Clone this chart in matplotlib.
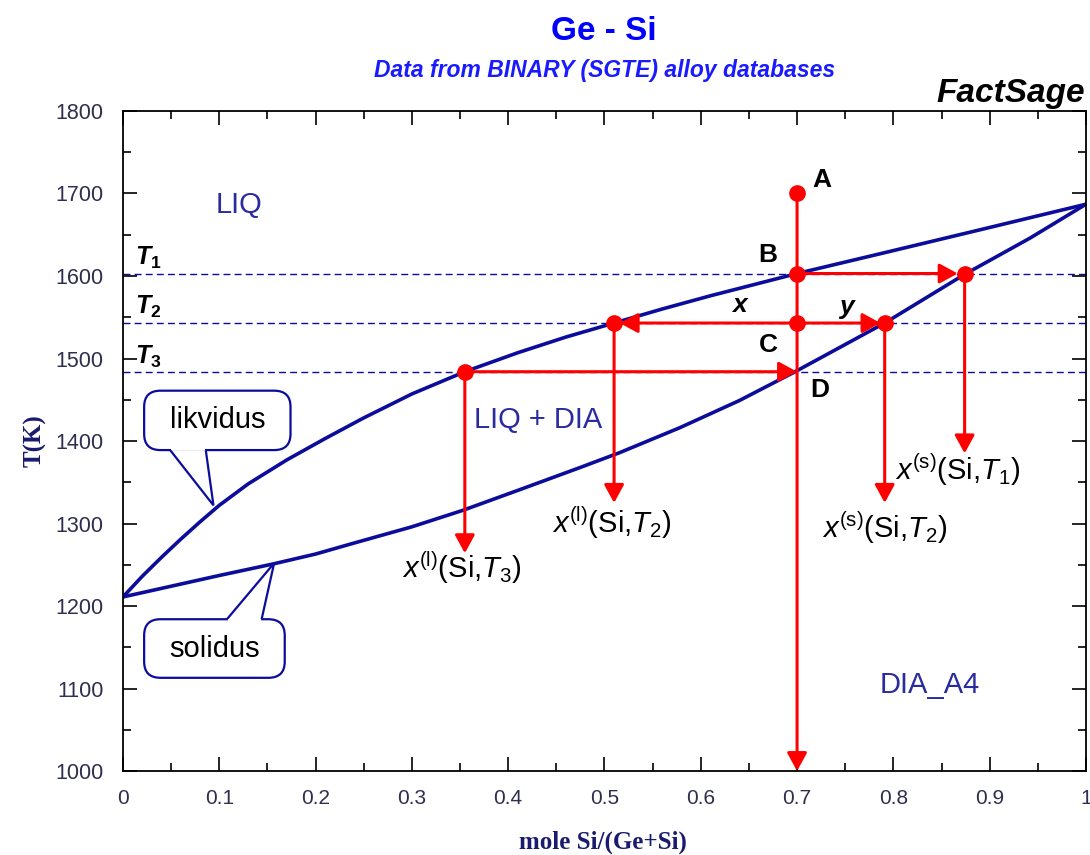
import matplotlib
matplotlib.use("Agg")
import matplotlib.pyplot as plt
from matplotlib.patches import FancyBboxPatch, Polygon
from matplotlib import font_manager

installed = {f.name for f in font_manager.fontManager.ttflist}
tick_font = "Liberation Sans Narrow" if "Liberation Sans Narrow" in installed else "Liberation Sans"

plt.rcParams["font.family"] = "Liberation Sans"
plt.rcParams["mathtext.fontset"] = "custom"
plt.rcParams["mathtext.rm"] = "Liberation Sans"
plt.rcParams["mathtext.it"] = "Liberation Sans:italic"
plt.rcParams["mathtext.bf"] = "Liberation Sans:bold"
plt.rcParams["mathtext.bfit"] = "Liberation Sans:bold:italic"

navy = "#0c0c9c"
text_navy = "#2b2ba0"
label_navy = "#1a1a6e"
red = "#ff0000"

# Liquidus and solidus (mole fraction Si, T in K)
liq_x = [0, 0.02, 0.04, 0.06, 0.08, 0.10, 0.13, 0.17, 0.21, 0.25, 0.30, 0.355,
         0.41, 0.46, 0.51, 0.56, 0.61, 0.70, 0.79, 0.89, 1.0]
liq_T = [1211, 1236, 1259, 1281, 1302, 1322, 1348, 1377, 1403, 1428, 1457, 1484,
         1507, 1526, 1543, 1560, 1576, 1603, 1628, 1656, 1687]
sol_x = [0, 0.05, 0.10, 0.156, 0.20, 0.239, 0.30, 0.353, 0.412, 0.475, 0.516,
         0.578, 0.64, 0.698, 0.791, 0.874, 0.942, 1.0]
sol_T = [1211, 1224, 1237, 1251, 1263, 1276, 1296, 1316, 1341, 1368, 1386,
         1416, 1449, 1484, 1543, 1602, 1646, 1687]

# Isotherms T1, T2, T3
T_iso = [1603, 1543, 1484]
# Overall composition and start temperature (point A)
x0 = 0.70
T_A = 1700
# Phase compositions on the isotherms
xl_T2, xl_T3 = 0.51, 0.355
xs_T1, xs_T2 = 0.874, 0.791
# Where the drop arrows end
drop_T3, drop_T2l, drop_T2s, drop_T1s = 1264, 1325, 1325, 1385

x_ticks = [0, 0.1, 0.2, 0.3, 0.4, 0.5, 0.6, 0.7, 0.8, 0.9, 1.0]
x_tick_labels = ["0", "0.1", "0.2", "0.3", "0.4", "0.5", "0.6", "0.7", "0.8", "0.9", "1"]
y_ticks = [1000, 1100, 1200, 1300, 1400, 1500, 1600, 1700, 1800]

fig = plt.figure(figsize=(10.9, 8.55), dpi=100)
ax = fig.add_axes([0.1128, 0.0982, 0.8835, 0.772])
ax.set_xlim(0, 1)
ax.set_ylim(1000, 1800)

ax.set_xticks(x_ticks, x_tick_labels)
ax.set_xticks([v + 0.05 for v in x_ticks[:-1]], minor=True)
ax.set_yticks(y_ticks, [str(v) for v in y_ticks])
ax.set_yticks([v + 50 for v in y_ticks[:-1]], minor=True)
ax.tick_params(which="both", direction="in", top=True, right=True, colors="black",
               labelcolor="#2e2e4e")
ax.tick_params(which="major", length=10, width=1.2)
ax.tick_params(which="minor", length=6, width=1.2)
ax.tick_params(axis="x", pad=13, labelsize=15)
ax.tick_params(axis="y", pad=14, labelsize=15.5)
for lab in ax.get_xticklabels() + ax.get_yticklabels():
    lab.set_fontfamily(tick_font)
for sp in ax.spines.values():
    sp.set_linewidth(1.3)

# isotherms
for T in T_iso:
    ax.axhline(T, color=navy, lw=1.0, ls=(0, (5, 3)), zorder=1)

# phase boundaries
ax.plot(liq_x, liq_T, color=navy, lw=2.6, zorder=2, solid_joinstyle="round")
ax.plot(sol_x, sol_T, color=navy, lw=2.6, zorder=2, solid_joinstyle="round")


def arrow(x1, y1, x2, y2, shrink=0):
    ax.annotate("", xy=(x2, y2), xytext=(x1, y1), annotation_clip=False,
                arrowprops=dict(arrowstyle="-|>,head_length=11,head_width=6",
                                mutation_scale=1, color=red, lw=2.2,
                                shrinkA=0, shrinkB=shrink), zorder=4)


T1, T2, T3 = T_iso
arrow(x0, T_A, x0, 1000)
arrow(x0, T1, xs_T1, T1, shrink=5)
arrow(x0, T2, xs_T2, T2, shrink=3)
arrow(x0, T2, xl_T2, T2, shrink=4)
arrow(xl_T3, T3, x0, T3)
arrow(xl_T3, T3, xl_T3, drop_T3)
arrow(xl_T2, T2, xl_T2, drop_T2l)
arrow(xs_T2, T2, xs_T2, drop_T2s)
arrow(xs_T1, T1, xs_T1, drop_T1s)

dots_x = [x0, x0, x0, xl_T2, xl_T3, xs_T2, xs_T1]
dots_T = [T_A, T1, T2, T2, T3, T2, T1]
ax.plot(dots_x, dots_T, "o", color=red, ms=11, zorder=5)

# point labels
for s, xx, yy in [("A", 0.726, 1716), ("B", 0.670, 1625), ("C", 0.670, 1516),
                  ("D", 0.724, 1462)]:
    ax.text(xx, yy, s, fontsize=19, fontweight="bold", ha="center", va="center")
ax.text(0.640, 1565, "x", fontsize=19, fontweight="bold", style="italic", ha="center", va="center")
ax.text(0.751, 1562, "y", fontsize=19, fontweight="bold", style="italic", ha="center", va="center")

for i, (T, yy) in enumerate(zip(T_iso, [1622, 1562, 1502])):
    ax.text(0.026, yy, r"$\mathbfit{T}_{\mathbf{%d}}$" % (i + 1), fontsize=18,
            ha="center", va="center")

# region labels
ax.text(0.121, 1686, "LIQ", fontsize=21, color=text_navy, ha="center", va="center")
ax.text(0.431, 1425, "LIQ + DIA", fontsize=21, color=text_navy, ha="center", va="center")
ax.text(0.838, 1104, "DIA_A4", fontsize=21, color=text_navy, ha="center", va="center")

# composition labels
for s, xx, yy in [(r"$x^{(\mathrm{l})}$(Si,$T_3$)", 0.352, 1247),
                  (r"$x^{(\mathrm{l})}$(Si,$T_2$)", 0.508, 1301),
                  (r"$x^{(\mathrm{s})}$(Si,$T_2$)", 0.791, 1295),
                  (r"$x^{(\mathrm{s})}$(Si,$T_1$)", 0.867, 1365)]:
    ax.text(xx, yy, s, fontsize=21, ha="center", va="center")


def callout(text, x0b, x1b, y0b, y1b, base, tip):
    # rounded box
    box = FancyBboxPatch((x0b, y0b), x1b - x0b, y1b - y0b,
                         boxstyle="round,pad=0,rounding_size=0.017",
                         mutation_aspect=1150, fc="white", ec=navy, lw=1.6, zorder=6)
    ax.add_patch(box)
    # tail
    by = base[2]
    tail = Polygon([(base[0], by), tip, (base[1], by)], closed=False,
                   fc="white", ec=navy, lw=1.6, zorder=7, joinstyle="miter")
    ax.add_patch(tail)
    dy = (y1b - y0b) * 0.04 * (1 if by == y0b else -1)
    cover = Polygon([(base[0] + 0.001, by), (base[1] - 0.001, by),
                     (base[1] - 0.001, by + dy), (base[0] + 0.001, by + dy)],
                    fc="white", ec="none", zorder=8)
    ax.add_patch(cover)
    ax.text((x0b + x1b) / 2, (y0b + y1b) / 2, text, fontsize=21, ha="center",
            va="center", zorder=9)


callout("likvidus", 0.022, 0.174, 1389, 1461, (0.049, 0.086, 1389), (0.094, 1322))
callout("solidus", 0.022, 0.168, 1113, 1184, (0.108, 0.144, 1184), (0.157, 1252))

# titles
fig.text(0.554, 0.963, "Ge - Si", fontsize=24, fontweight="bold", color="#0000ff",
         ha="center", va="center")
fig.text(0.555, 0.917, "Data from BINARY (SGTE) alloy databases", fontsize=16.5,
         fontweight="bold", style="italic", color="#1a1aff", ha="center", va="center")
fig.text(0.9954, 0.891, "FactSage", fontsize=24, fontweight="bold", style="italic",
         color="black", ha="right", va="center")

fig.text(0.032, 0.485, "T(K)", fontsize=18, fontweight="bold", color=label_navy,
         family="Liberation Serif", rotation=90, ha="center", va="center")
fig.text(0.553, 0.015, "mole Si/(Ge+Si)", fontsize=18, fontweight="bold",
         color=label_navy, family="Liberation Serif", ha="center", va="center")

fig.savefig("out.png", dpi=100)
